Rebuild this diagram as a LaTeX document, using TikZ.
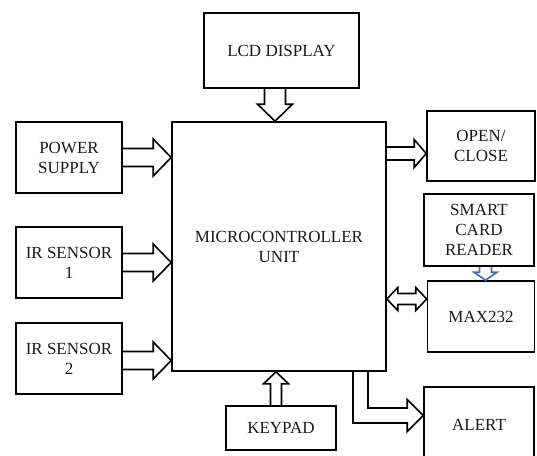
\documentclass[tikz,border=0pt]{standalone}
\usepackage{xcolor}
\usepackage{fontspec}
\setmainfont{Liberation Serif}
\usepackage{tikz}
\usetikzlibrary{arrows.meta,positioning,calc}
\definecolor{cardblue}{RGB}{68,114,176}
\tikzset{
    box/.style={
        draw,
        line width=1.6pt,
        align=center,
        inner sep=0pt,
        text=black!90,
        font=\fontsize{17}{20}\selectfont
    },
    flow/.style={line width=1.6pt, line join=miter},
    cardflow/.style={flow, draw=cardblue, line width=1.7pt}
}
% block arrow, left to right: start, end, shaft half, head half, head length
\newcommand{\harrow}[6][flow]{%
    \draw[#1] let \p1=#2, \p2=#3 in
        (\x1,\y1+#4pt) -- (\x2-#6pt,\y1+#4pt) -- (\x2-#6pt,\y1+#5pt) -- (\x2,\y1)
        -- (\x2-#6pt,\y1-#5pt) -- (\x2-#6pt,\y1-#4pt) -- (\x1,\y1-#4pt);}
% block arrow, vertical: head length >0 points down, <0 points up
\newcommand{\varrow}[6][flow]{%
    \draw[#1] let \p1=#2, \p2=#3 in
        (\x1-#4pt,\y1) -- (\x1-#4pt,\y2+#6pt) -- (\x1-#5pt,\y2+#6pt) -- (\x1,\y2)
        -- (\x1+#5pt,\y2+#6pt) -- (\x1+#4pt,\y2+#6pt) -- (\x1+#4pt,\y1);}

\begin{document}
\begin{tikzpicture}[x=1pt,y=-1pt]
    \useasboundingbox (0,0) rectangle (537,455);

    \node[box, minimum width=155pt, minimum height=75pt] (lcd) at (281.5,50.5) {LCD DISPLAY};
    \node[box, minimum width=214pt, minimum height=249pt] (mcu) at (279,246.5) {MICROCONTROLLER\\UNIT};
    \node[box, minimum width=106pt, minimum height=71pt] (pwr) at (69,157.5) {POWER\\SUPPLY};
    \node[box, minimum width=106pt, minimum height=71pt] (irone) at (69,262.5) {IR SENSOR\\1};
    \node[box, minimum width=106pt, minimum height=71pt] (irtwo) at (69,358.5) {IR SENSOR\\2};
    \node[box, minimum width=108pt, minimum height=70pt] (opcl) at (481,146) {OPEN/\\CLOSE};
    \node[box, minimum width=110pt, minimum height=72pt] (scr) at (479,230) {SMART\\CARD\\READER};
    \node[box, minimum width=107pt, minimum height=71pt] (max) at (481,316.5) {MAX232};
    \node[box, minimum width=110pt, minimum height=76pt] (alert) at (479,425) {ALERT};
    \node[box, minimum width=110pt, minimum height=44pt] (keypad) at (281,428) {KEYPAD};

    \varrow{($(lcd.south)+(-6.5,0)$)}{(mcu.north)}{10.5}{17.5}{17}
    \harrow{(pwr.east)}{(mcu.west)}{9}{18.5}{18}
    \harrow{(irone.east)}{(mcu.west)}{9}{18.5}{18}
    \harrow{($(irtwo.east)+(0,2)$)}{(mcu.west)}{9}{18.5}{18}
    \harrow{($(mcu.east |- opcl.west)+(0,7.5)$)}{(opcl.west)}{6.5}{14}{12}
    \varrow[cardflow]{($(scr.south)+(6.5,0)$)}{(max.north)}{6}{11.5}{8}
    \varrow{($(keypad.north)+(-5,0)$)}{(mcu.south)}{5.5}{12.5}{-12}

    % two-headed arrow to the MAX232
    \draw[flow] let \p1=($(mcu.east |- max.west)+(0,-17.5)$), \p2=(max.west) in
        (\x1,\y1) -- (\x1+11pt,\y1+11.5pt) -- (\x1+11pt,\y1+5.5pt) -- (\x2-11pt,\y1+5.5pt)
        -- (\x2-11pt,\y1+11.5pt) -- (\x2,\y1) -- (\x2-11pt,\y1-11.5pt) -- (\x2-11pt,\y1-5.5pt)
        -- (\x1+11pt,\y1-5.5pt) -- (\x1+11pt,\y1-11.5pt) -- cycle;

    % bent arrow down to the alert
    \draw[flow] let \p1=($(mcu.south)+(81.5,0)$), \p2=($(alert.west)+(0,-9.5)$) in
        (\x1-7.5pt,\y1) -- (\x1-7.5pt,\y2-7.5pt) -- (\x2-16pt,\y2-7.5pt) -- (\x2-16pt,\y2-16pt)
        -- (\x2,\y2) -- (\x2-16pt,\y2+16pt) -- (\x2-16pt,\y2+7.5pt) -- (\x1+7.5pt,\y2+7.5pt)
        -- (\x1+7.5pt,\y1);
\end{tikzpicture}
\end{document}
